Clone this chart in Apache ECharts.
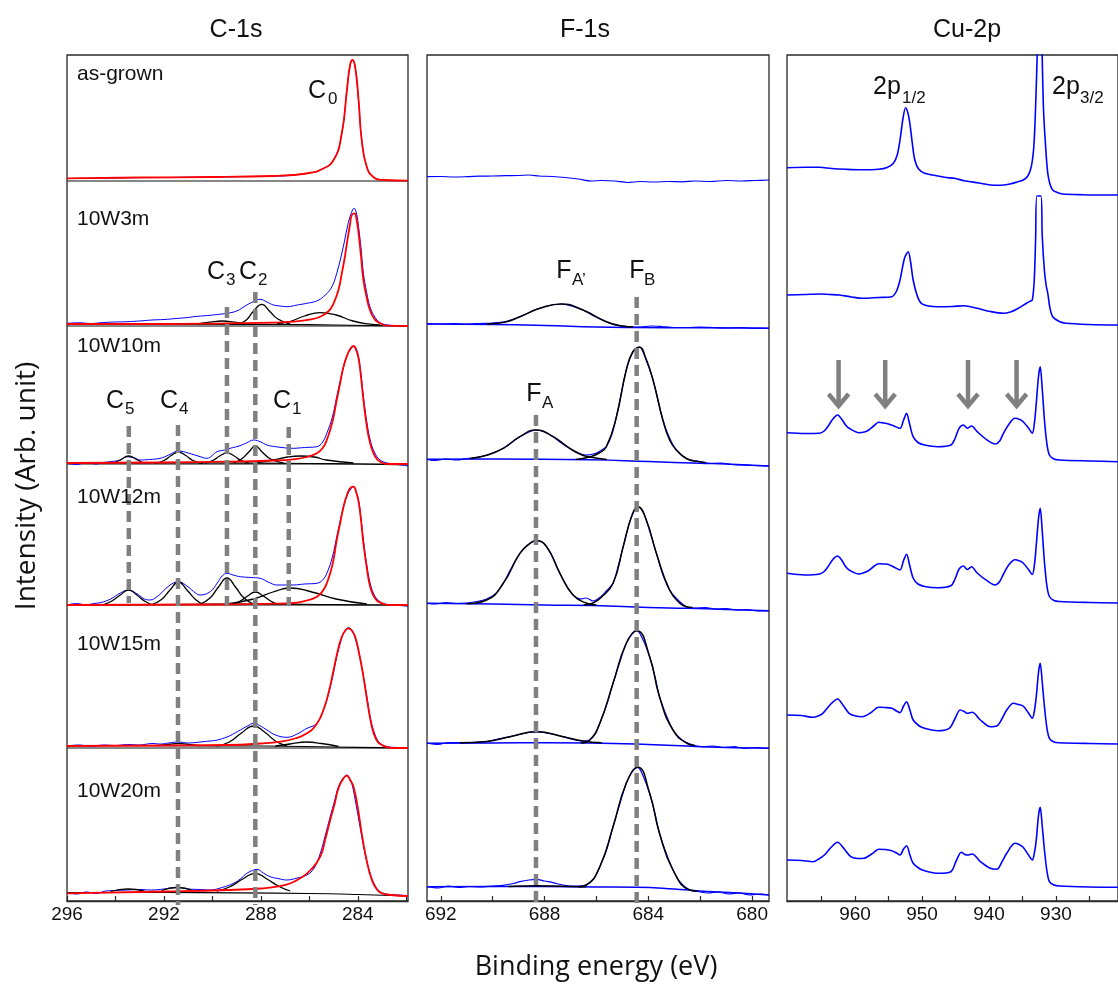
<!DOCTYPE html>
<html><head><meta charset="utf-8">
<script src="https://cdn.jsdelivr.net/npm/echarts@6/dist/echarts.min.js"></script>
<style>html,body{margin:0;padding:0;background:#fff}#c{width:1118px;height:990px}</style>
</head><body><div id="c"></div>
<script>
// ---------------- DATA ----------------
const panelTitles = ['C-1s', 'F-1s', 'Cu-2p'];
const rowNames = ['as-grown', '10W3m', '10W10m', '10W12m', '10W15m', '10W20m'];
// vertical offset of each stacked spectrum (arb. units)
const rowOffsets = [720, 575, 437, 296, 153, 0];

const cLabels = [284, 288, 292, 296];
const cTicks = [282, 284, 286, 288, 290, 292, 294, 296];
const fLabels = [680, 684, 688, 692];
const fTicks = [680, 682, 684, 686, 688, 690, 692];
const cuLabels = [930, 940, 950, 960];
const cuTicks = [925, 930, 935, 940, 945, 950, 955, 960, 965];

// C-1s raw spectra (blue), [binding energy, intensity above row baseline]
const cRaw = [
 [[296,2.5],[295,2.8],[294,3],[293,3.4],[292,3.5],[291,3.8],[290,4],[289,4.3],[288,4.5],[287,5.2],[286.66,6],[286,8],[285.55,11],[285.0,21],[284.66,48],[284.45,91],[284.32,116],[284.22,121],[284.11,114],[283.97,81],[283.84,41],[283.63,14],[283.36,4],[282.95,1],[282.5,0.6],[281.93,0.3]],
 [[296,2.7],[295.5,3.2],[295,2.5],[294.5,3.5],[294,4],[293.53,4.3],[293,5],[292.5,6],[292,6.5],[291.5,7.5],[291,8.5],[290.78,9.3],[290.2,10.5],[289.8,11.5],[289.4,12.7],[289,15],[288.58,21],[288.3,24.5],[288.03,26.7],[287.75,24],[287.48,21],[287.2,20],[286.93,19.3],[286.5,21],[286.1,22.7],[285.7,25],[285.42,29.3],[285.1,38],[284.87,52.7],[284.6,79.3],[284.45,97],[284.32,109.3],[284.15,117.7],[284.05,112],[283.97,99.3],[283.87,78],[283.77,52.7],[283.63,33],[283.5,19.3],[283.3,9],[283.08,3.3],[282.7,0.8],[282.3,0.3],[281.93,0]],
 [[296,0.7],[295.6,-0.5],[295.2,1.5],[294.8,0],[294.5,1.5],[294.21,2.3],[293.8,4],[293.53,7.3],[293.2,6],[292.98,4],[292.6,4.5],[292.15,5.7],[291.8,9],[291.4,13],[291,11],[290.5,7.3],[290.23,5.7],[289.81,12.3],[289.5,14],[289.27,15.7],[288.9,18],[288.6,21],[288.3,24],[288,22],[287.75,19],[287.3,17],[286.66,15.7],[286.2,16.5],[285.69,17.3],[285.45,22],[285.28,30.7],[285.05,47],[284.87,67.3],[284.72,84],[284.59,97.3],[284.45,108],[284.32,114],[284.15,118],[284.06,115],[283.97,107.3],[283.87,90],[283.77,67.3],[283.63,42],[283.49,24],[283.3,11],[283.08,4],[282.8,1],[282.53,0],[282.2,-1],[281.93,-2]],
 [[296,0],[295.6,1.5],[295.2,0],[294.9,1.5],[294.62,2.3],[294.2,6],[293.8,12],[293.46,15],[293.1,11],[292.8,6],[292.57,5],[292.2,10],[291.8,19],[291.4,23.3],[291,18],[290.7,12],[290.5,10],[290.09,13.3],[289.8,22],[289.6,29],[289.4,31.7],[289.15,30],[288.85,28.3],[288.4,27.5],[288.03,26.7],[287.7,23],[287.34,20],[286.66,20],[286.2,21],[285.69,21.7],[285.45,25],[285.28,31.7],[285.05,48],[284.87,68.3],[284.72,85],[284.59,98.3],[284.45,109],[284.32,115],[284.18,118.3],[284.07,113],[283.97,105],[283.87,87],[283.77,65],[283.63,40],[283.49,21.7],[283.3,9],[283.08,3.3],[282.8,0.5],[282.4,0],[281.93,-1]],
 [[296,2],[295.5,3],[295,1.5],[294.5,3],[294,2.5],[293.5,3.5],[293,3],[292.5,4.5],[292.15,4],[291.8,5],[291.4,6],[291,5],[290.78,5.3],[290.3,6.5],[289.9,7.5],[289.68,8.7],[289.3,12],[288.85,18],[288.55,22],[288.3,24.7],[288.05,22.5],[287.75,18],[287.4,13],[286.93,10.7],[286.5,14],[286.1,19.7],[285.85,22],[285.69,24.7],[285.5,33],[285.28,48],[285.05,70],[284.87,91.3],[284.72,105],[284.59,114.7],[284.39,120.3],[284.28,119],[284.18,114.7],[284.0,100],[283.84,81.3],[283.65,55],[283.49,31.3],[283.3,14],[283.08,4.7],[282.7,1],[282.3,0.5],[281.93,0]],
 [[296,8.3],[295.6,7],[295.2,9],[294.8,7.5],[294.4,10],[294,10.5],[293.53,11],[293,11.5],[292.5,11],[292,12],[291.46,13.7],[291,12],[290.5,11.5],[290.09,11],[289.6,13.5],[289.13,17.7],[288.85,22],[288.58,27.7],[288.35,30.5],[288.16,31.7],[287.9,28],[287.62,24.3],[287.3,22.5],[286.93,21],[286.5,23],[286.1,26],[285.8,33],[285.55,47.7],[285.35,65],[285.14,84.3],[284.95,101],[284.8,114.3],[284.6,123],[284.45,126],[284.35,123],[284.25,117.7],[284.1,100],[283.91,74.3],[283.7,47],[283.49,27.7],[283.3,16],[283.08,9.3],[282.7,6.5],[282.3,6],[281.93,5]]
];
// C-1s C0 fitted component (red)
const cFit = [
 [[296,2.7],[293,3.5],[290,4],[287.5,5],[286.66,6],[286,8],[285.55,11],[285.0,21],[284.66,48],[284.45,91],[284.32,116],[284.22,121],[284.11,114],[283.97,81],[283.84,41],[283.63,14],[283.36,4],[282.95,1],[281.93,0.3]],
 [[296,2],[292,2],[289.4,2.7],[287.5,3.3],[286.66,4.3],[286,6.3],[285.55,9.3],[285.2,15],[285.0,22.7],[284.8,36],[284.66,52.7],[284.53,70],[284.43,86],[284.32,102],[284.25,111],[284.14,112.7],[284.05,106],[283.97,92.7],[283.87,70],[283.77,46],[283.63,28],[283.5,16],[283.3,6.5],[283.08,2.7],[282.8,0.3],[281.93,0]],
 [[296,1],[292,1.5],[289.4,2.3],[287.5,3.5],[286.66,4.7],[286.1,7],[285.69,10.7],[285.45,16],[285.28,24],[285.05,42],[284.87,64],[284.72,82],[284.59,97.3],[284.45,108],[284.32,114.7],[284.18,118],[284.07,114],[283.97,105.7],[283.87,87],[283.77,64],[283.63,38],[283.49,20.7],[283.3,8],[283.08,2.3],[282.7,0],[281.93,0]],
 [[296,0],[290,0.5],[287.5,1.3],[286.66,2],[286.1,4.5],[285.69,8.3],[285.45,14],[285.28,21.7],[285.05,40],[284.87,65],[284.72,83],[284.59,98.3],[284.45,110],[284.32,116.7],[284.18,118.3],[284.07,113],[283.97,103.3],[283.87,85],[283.77,61.7],[283.63,37],[283.49,18.3],[283.3,7],[283.08,2.3],[282.6,0],[281.93,0]],
 [[296,2],[292,2.5],[289.4,3],[288,4.5],[287.2,6.3],[286.6,9.5],[286.1,14.7],[285.7,24],[285.42,38],[285.2,56],[285.0,78],[284.83,97],[284.66,111.3],[284.5,118],[284.39,119.7],[284.25,117.5],[284.11,111.3],[283.95,95],[283.77,71.3],[283.6,45],[283.42,21.3],[283.25,9],[283.08,4],[282.6,0],[281.93,0]],
 [[296,7.7],[292,9.5],[289.4,11],[288,12.5],[287.34,14.3],[286.8,17.5],[286.38,22.7],[285.95,31],[285.55,44.3],[285.35,61],[285.14,81],[284.95,98],[284.8,112.7],[284.6,122.5],[284.45,125.3],[284.32,121],[284.18,114.3],[284.0,93],[283.84,67.7],[283.63,40],[283.42,21],[283.2,11],[283.0,7.7],[282.6,6],[281.93,5]]
];
// C-1s other components C1..C5 (black)
const cComps = [
 [],
 [
  [[290.6,2],[290.1,3.8],[289.6,5],[289.1,3.8],[288.6,2]],
  [[288.92,2],[288.6,6],[288.3,15],[287.96,21.7],[287.65,15],[287.3,7],[286.79,2]],
  [[287.34,2],[286.8,4.5],[286.2,10],[285.55,13.3],[284.9,11],[284.2,5],[283.5,1.8],[283.08,1]]
 ],
 [
  [[294.08,1],[293.8,4],[293.46,8],[293.1,4],[292.84,1]],
  [[292.36,0.5],[292.0,3.5],[291.7,8.5],[291.4,12],[291.1,8.5],[290.8,3.5],[290.37,0.5]],
  [[290.3,1],[289.95,4],[289.7,8],[289.4,11],[289.1,8],[288.85,4],[288.5,1]],
  [[289.13,1],[288.8,5],[288.5,12],[288.23,18],[287.95,12],[287.6,5],[287.07,1]],
  [[288.3,1],[287.5,4],[286.9,7],[286.38,8],[285.8,7],[285.3,4],[284.18,1]]
 ],
 [
  [[294.49,0.5],[294.15,4],[293.8,10],[293.46,15],[293.12,10],[292.8,4],[292.5,0.5]],
  [[292.5,0.5],[292.1,5.5],[291.75,15],[291.4,23],[291.05,15],[290.7,5.5],[290.37,0.5]],
  [[290.5,1],[290.1,7],[289.75,18],[289.4,27],[289.05,18],[288.7,7],[288.3,1]],
  [[289.13,1],[288.85,4],[288.55,9],[288.23,13],[287.9,9],[287.6,4],[287.34,1]],
  [[289.4,1],[288.3,6],[287.5,13],[286.79,17],[285.9,13],[284.9,6],[283.63,1]]
 ],
 [
  [[292.3,2.3],[291.8,3.5],[291.4,4.5],[291,3.5],[290.5,2.3]],
  [[289.82,2],[289.3,6],[288.8,15],[288.3,22],[287.85,16],[287.4,7],[286.93,2]],
  [[287.4,2],[286.8,4],[286.1,6],[285.5,4.5],[284.8,1.5]]
 ],
 [
  [[294.2,9.5],[293.5,12],[292.8,9.8]],
  [[292.1,10.5],[291.45,13.5],[290.8,10.5]],
  [[289.82,10],[289.3,14],[288.75,22],[288.23,27.7],[287.75,22],[287.25,14.5],[286.79,10]]
 ]
];
// C-1s background (black)
const cBg = [
 [],
 [[296,2],[292,1.9],[289,1.7],[287,1.5],[285,1],[283.5,0.5],[281.93,0]],
 [[296,1],[290,1],[286,0.5],[284,0],[281.93,-1]],
 [[296,0],[292,0.5],[288,1],[285,0.3],[283,0],[281.93,-1]],
 [[296,2.5],[292,2.3],[288,2],[285,1],[283,0.3],[281.93,0]],
 [[296,8.5],[292,8.5],[289,8.2],[286,7.5],[284,6.5],[281.93,5]]
];
// C-1s dashed guide lines: [energy, top, bottom] (absolute units)
const cGuides = [[293.45,475,298],[291.42,476,-4],[289.4,594,296],[288.23,609,-4],[286.85,474,296]];

// F-1s raw (blue)
const fRaw = [
 [[692.53,4.3],[692,4.5],[691.5,4],[691,4.3],[690.5,4.8],[690,5],[689.5,5.3],[689,5.5],[688.6,6],[688.2,5],[687.7,4.5],[687.2,3.5],[686.7,2],[686.2,0],[685.8,0.5],[685.3,0],[684.8,-1.5],[684.3,-0.5],[683.8,-1],[683.2,-0.5],[682.7,-0.8],[682.2,0],[681.6,-0.5],[681,0.5],[680.4,0],[679.9,0.5],[679.35,1]],
 [[692.53,2.3],[692,2],[691.5,2.5],[691,2],[690.5,2.5],[690,3],[689.5,4.5],[688.95,9.3],[688.5,14.5],[688.18,17.7],[687.8,20.5],[687.35,22],[686.9,19.5],[686.52,16],[686.1,10],[685.62,4.3],[685.2,0.5],[684.8,-0.5],[684.3,-1],[683.9,0],[683.5,-0.5],[683,-1.5],[682.5,-1.5],[682,-1],[681.5,-1.5],[681,-2],[680.5,-1.5],[680,-2],[679.35,-2.3]],
 [[692.53,4.7],[692.2,3.5],[691.8,5],[691.4,4],[691,5.5],[690.87,5.7],[690.5,7],[690.1,10],[689.59,15.7],[689.3,21],[688.95,27.3],[688.6,32],[688.33,34],[688.0,32],[687.67,27.3],[687.35,21],[687.03,15.7],[686.7,11],[686.4,9],[686.2,9.5],[686.0,11],[685.8,14],[685.62,17.3],[685.4,30],[685.23,47.3],[685.05,70],[684.85,94],[684.6,112],[684.34,117],[684.1,105],[683.82,84],[683.63,64],[683.44,44],[683.2,27],[682.92,14],[682.5,5],[682.03,2.3],[681.6,0.5],[681.2,1],[680.8,-0.5],[680.4,-1],[680,-1.5],[679.35,-2]],
 [[692.53,1.7],[692.2,1],[691.8,2.5],[691.4,1.5],[691,2],[690.6,3.5],[690.23,6],[689.9,11],[689.59,21.7],[689.3,36],[688.95,51.7],[688.56,61.7],[688.33,64.3],[688.1,63],[687.92,58.3],[687.67,47],[687.41,31.7],[687.15,19],[686.9,10],[686.6,6],[686.4,7],[686.13,4],[685.8,9],[685.62,14],[685.36,21.7],[685.15,40],[684.97,58.3],[684.8,75],[684.65,88.3],[684.4,98.3],[684.2,93],[684.08,85],[683.9,70],[683.69,51.7],[683.45,31],[683.18,15],[682.9,6],[682.54,-1.7],[682.2,-3],[681.8,-2.5],[681.4,-4],[681,-3.5],[680.6,-5],[680.2,-4.5],[679.8,-6],[679.35,-5.7]],
 [[692.53,5],[692.1,3.5],[691.7,5.5],[691.26,5.3],[690.8,5.5],[690.23,6.3],[689.8,9],[689.33,11.3],[688.8,14.5],[688.31,16.3],[687.8,14.5],[687.28,11.3],[686.9,8.5],[686.52,7],[686.26,8],[686.05,14],[685.87,24.7],[685.6,44],[685.36,64.7],[685.1,86],[684.85,104.7],[684.6,115],[684.44,117.3],[684.2,108],[683.95,91.3],[683.75,72],[683.57,51.3],[683.3,32],[683.05,18],[682.7,8],[682.28,3],[681.9,1.3],[681.5,2],[681.1,0.5],[680.7,1.5],[680.3,-0.5],[679.9,0.5],[679.35,-0.3]],
 [[692.53,14.3],[692.1,13],[691.7,15],[691.3,13.5],[690.9,14.5],[690.5,14],[690,15],[689.59,15.7],[689.2,17.5],[688.95,19.3],[688.6,21],[688.31,21.7],[688,20],[687.67,18.3],[687.3,16],[687.03,15],[686.7,14.8],[686.39,16],[686.1,22],[685.87,34.3],[685.6,52],[685.36,74.3],[685.1,97],[684.85,117.7],[684.6,130],[684.4,133.7],[684.2,125],[683.95,107.7],[683.75,88],[683.57,67.7],[683.3,47],[683.05,31],[682.75,18],[682.41,11],[682.1,9.5],[681.7,8],[681.3,9],[680.9,7],[680.5,8],[680.1,6],[679.7,7],[679.35,6]]
];
// F-1s background (blue)
const fBg = [
 [],
 [[692.53,2],[690,1.5],[688,0.5],[686,-1],[684.5,-1.5],[682,-1.8],[679.35,-2.3]],
 [[692.53,4.7],[690,5],[686.26,4.3],[684,2.5],[682,0.7],[681,0],[679.35,-2]],
 [[692.53,1.7],[690,1],[688,0],[686.13,-0.5],[684,-2.5],[682.5,-3.3],[681,-4.5],[679.35,-5.7]],
 [[692.53,4.7],[690,5],[688,5.3],[686.26,5],[684,3.5],[682,1.3],[679.35,-0.3]],
 [[692.53,14.3],[690,14.6],[688,14.5],[686,14],[684.46,13.7],[683,12],[682.15,10.3],[680.5,8],[679.35,6]]
];
// F-1s fitted components (black)
const fComps = [
 [],
 [[[690.23,2],[689.5,4],[688.95,9.3],[688.18,17.7],[687.35,22],[686.52,16],[685.62,4.3],[685,0],[684.59,-1]]],
 [
  [[690.87,5.5],[690.2,9],[689.59,15.7],[688.95,27.3],[688.33,34],[687.67,27.3],[687.03,15.7],[686.6,9.5],[686.26,7],[685.9,5.5],[685.6,4.5]],
  [[686.8,4.5],[686.26,7],[685.9,11],[685.62,17.3],[685.23,47.3],[684.85,94],[684.6,112],[684.34,116.7],[684.1,106],[683.82,84],[683.44,44],[683.18,24],[682.92,14],[682.5,5],[682.03,2.3],[681.8,1.5]]
 ],
 [
  [[691,1.3],[690.23,5],[689.59,21.7],[688.95,51.7],[688.56,61.7],[688.33,64.3],[687.92,58.3],[687.41,31.7],[686.9,10],[686.4,2],[686.0,0]],
  [[686.5,0],[686.13,2],[685.8,8],[685.36,21.7],[684.97,58.3],[684.65,88.3],[684.4,98.3],[684.08,85],[683.69,51.7],[683.18,15],[682.8,2],[682.54,-1.7],[682.3,-2.5]]
 ],
 [
  [[691.26,5.3],[690.23,6.5],[689.33,11.3],[688.31,16.3],[687.28,11.3],[686.52,7],[685.8,5.2]],
  [[686.6,5],[686.26,8],[685.87,24.7],[685.36,64.7],[684.85,104.7],[684.44,117.3],[683.95,91.3],[683.57,51.3],[683.05,18],[682.5,4.5],[682.2,2.5]]
 ],
 [
  [[689.4,14.6],[688.8,15],[688.3,15.2],[687.7,15],[687,14.6],[686.4,14.2]],
  [[686.7,14.2],[686.39,16],[685.87,34.3],[685.36,74.3],[684.85,117.7],[684.4,133.7],[683.95,107.7],[683.57,67.7],[683.05,31],[682.41,11],[682.1,10]]
 ]
];
const fGuides = [[688.33,486,-4],[684.45,604,-4]];

// Cu-2p raw (blue)
const cuRaw = [
 [[970.15,13.3],[967.5,13.8],[965.29,13.7],[963.5,12.5],[961.37,11.7],[959,11.2],[956.47,11.7],[955.2,13.5],[954.26,17.7],[953.7,26],[953.28,41],[952.85,62],[952.45,73.3],[952.1,68],[951.81,57.7],[951.45,38],[951.07,21],[950.5,12],[949.6,7.7],[948,5.5],[946.66,3.7],[945,2.5],[943.72,0.3],[941.5,-2],[939.8,-4],[938.3,-4.2],[936.87,-3],[935.8,-1],[934.9,1],[934.2,5],[933.68,14.3],[933.3,35],[933.04,74.3],[932.75,140],[932.42,250],[932.1,140],[931.85,70],[931.45,25],[931.22,7.7],[930.9,-3],[930.49,-9],[929.8,-11.5],[929.02,-13],[926,-13.7],[923,-14],[920.74,-14]],
 [[970.15,31],[967.5,31.5],[965.29,32],[963.8,31.5],[962.35,31],[960.5,29],[958.92,27.7],[956.5,28.5],[954.51,29.3],[953.8,35],[953.28,46],[952.6,68],[952.06,74.3],[951.7,64],[951.32,46],[950.7,30],[950.1,22.7],[949,20],[947.65,19.3],[945.5,19.5],[943.72,20.3],[941.76,17.7],[939.8,14.5],[937.84,12.7],[936.8,14],[935.88,16.7],[934.41,22.7],[933.8,25],[933.53,26],[933.25,45],[933.04,86],[932.85,130],[932.25,130],[932.05,90],[931.72,55],[931.45,40],[931.22,32.7],[930.9,18],[930.49,9.3],[929.5,4.5],[928.53,2.7],[925,1.5],[920.74,1]],
 [[970.15,31.3],[967.5,30.5],[965.29,30.7],[964.6,33],[964.07,37.3],[963.3,45],[962.6,49],[962,45],[961.4,39],[960.88,35.7],[959.41,31.3],[958.6,32],[957.94,34],[957.2,38],[956.47,41.7],[955.7,41],[955,40],[954.2,38],[953.28,35.7],[952.75,44],[952.3,50.7],[951.85,40],[951.32,27.3],[950.6,21.5],[949.6,19],[947.65,17.3],[945.69,19],[945.1,25],[944.46,35.7],[943.82,39],[943.24,35.7],[942.6,38],[941.76,32.3],[940.29,24],[939.07,20],[938.4,23],[937.84,30.7],[937,40],[936.13,45.7],[935.4,44.5],[934.9,42.3],[934.1,36],[933.53,30.7],[933.2,42],[932.94,60.7],[932.6,88],[932.35,97.3],[932.05,75],[931.72,44],[931.35,20],[930.98,9],[930.3,5],[929.51,4],[925,3],[920.74,2.3]],
 [[970.15,31.7],[967.5,30],[965.29,31],[964.6,33.5],[964.07,38],[963.3,45.5],[962.6,49],[962,45],[961.4,38.5],[960.88,35],[959.41,31],[958.6,32.5],[957.94,34.5],[957.2,38.5],[956.47,41.3],[955.7,41],[955,40.5],[954.2,38],[953.28,35],[952.75,44.5],[952.3,50.7],[951.85,40],[951.32,27],[950.6,21],[949.6,18.5],[947.65,17.3],[945.69,19.3],[945.1,25.5],[944.46,36],[943.82,39],[943.24,35.5],[942.6,38.3],[941.76,32],[940.29,24.3],[939.07,20],[938.4,23.5],[937.84,31],[937,40.5],[936.13,45.3],[935.4,44],[934.9,42],[934.1,35.5],[933.53,30.5],[933.2,41],[932.94,60],[932.6,87],[932.35,96.7],[932.05,74],[931.72,43],[931.35,19],[930.98,8.5],[930.3,4.5],[929.51,3.5],[925,2.5],[920.74,2]],
 [[970.15,33],[968,32.5],[966.27,30.7],[965.5,32],[964.8,34.7],[963.6,44],[962.6,49],[961.7,42],[960.88,34.7],[959.9,32],[958.92,31.3],[957.7,35],[956.47,40.7],[955.5,40.5],[954.51,39.7],[953.8,37],[953.28,35.3],[952.75,42],[952.3,46.3],[951.8,38],[951.32,28],[950.4,22],[949.6,19.7],[947.65,17.3],[945.93,19.7],[945.1,29],[944.31,38],[943.7,36.5],[943.24,34.7],[942.5,35.7],[941.28,28],[939.81,21.3],[938.82,22],[938,30],[937.35,38],[936.37,44.7],[935.6,43.5],[934.9,42],[934.1,35],[933.53,29.7],[933.2,38],[932.94,51.3],[932.6,76],[932.35,84.7],[932.05,66],[931.72,41.3],[931.35,20],[930.98,9.7],[930.3,6],[929.51,5.3],[925,4.5],[920.74,4]],
 [[970.15,41],[968,40.5],[966.27,39.3],[965.4,42],[964.56,46],[963.6,53.5],[962.6,58.7],[961.6,52],[960.63,44.3],[959.6,42.5],[958.68,42.7],[957.5,47],[956.47,51.7],[955.5,51.5],[954.51,50.3],[953.8,48],[953.28,46],[952.75,52],[952.3,55.3],[951.8,46],[951.32,37.7],[950.4,32.5],[949.6,30.3],[947.65,27.7],[945.69,29.3],[944.9,40],[944.12,48.7],[943.6,46.5],[943.24,46],[942.5,47],[941.28,39.3],[939.81,32.7],[938.82,31.7],[938,40],[937.35,47.7],[936.13,57.7],[935.5,56.5],[934.9,53.7],[934.1,46],[933.53,41],[933.2,49],[932.94,61],[932.6,86],[932.35,93.7],[932.05,75],[931.72,51],[931.35,30],[930.98,19.3],[930.3,16],[929.51,15],[925,14],[920.74,13.7]]
];
// satellite arrows over 10W10m Cu-2p: energies, top & tip (absolute units)
const cuArrowE = [962.45, 955.49, 943.13, 935.88];
const cuArrowTop = 541, cuArrowTip = 494;

// ---------------- CHART ----------------
const AX = '#2a2a2a';
const SANS = '"Liberation Sans", Arial, sans-serif';
const grids = [
  {left: 67, top: 55, width: 341, height: 846},
  {left: 427, top: 55, width: 342, height: 846},
  {left: 787, top: 55, width: 336, height: 846}
].map(g => Object.assign(g, {show: true, borderColor: AX, borderWidth: 1.3, containLabel: false}));

function xAx(i, min, max, labels, ticks) {
  return {
    gridIndex: i, type: 'value', inverse: true, min: min, max: max,
    axisLine: {show: true, onZero: false, lineStyle: {color: AX, width: 1.3}},
    axisTick: {show: true, inside: true, length: 5, customValues: ticks, lineStyle: {color: AX, width: 1.2}},
    axisLabel: {show: true, customValues: labels, fontSize: 19, color: '#111', margin: 4, fontFamily: SANS},
    splitLine: {show: false}
  };
}
const xAxes = [
  xAx(0, 281.93, 296, cLabels, cTicks),
  xAx(1, 679.35, 692.53, fLabels, fTicks),
  xAx(2, 920.74, 970.15, cuLabels, cuTicks)
];
const yAxes = [0, 1, 2].map(i => ({gridIndex: i, type: 'value', min: 0, max: 846, show: false}));

const series = [];
function addLine(gi, data, off, color, width, z, smooth) {
  series.push({
    type: 'line', xAxisIndex: gi, yAxisIndex: gi, z: z,
    data: data.map(p => [p[0], p[1] + off]),
    symbol: 'none', showSymbol: false, smooth: smooth === undefined ? 0.5 : smooth,
    lineStyle: {color: color, width: width, join: 'round'}, silent: true, animation: false
  });
}
const BLUE = '#0000ff', RED = '#ff0000', BLACK = '#000000', GRAY = '#808080';

// C-1s separators between stacked frames
rowOffsets.slice(0, 5).forEach(o => addLine(0, [[296, 0], [281.93, 0]], o, '#111', 1.2, 1, false));

for (let r = 0; r < 6; r++) {
  const off = rowOffsets[r];
  // C-1s
  if (cBg[r].length) addLine(0, cBg[r], off, BLACK, 1.2, 2);
  addLine(0, cRaw[r], off, BLUE, 1, 3, 0.4);
  cComps[r].forEach(c => addLine(0, c, off, BLACK, 1.3, 4));
  addLine(0, cFit[r], off, RED, 1.8, 5);
  // F-1s
  if (fBg[r].length) addLine(1, fBg[r], off, BLUE, 1.5, 2);
  addLine(1, fRaw[r], off, BLUE, 1.2, 3, 0.3);
  fComps[r].forEach(c => addLine(1, c, off, BLACK, 1.5, 4));
  // Cu-2p
  addLine(2, cuRaw[r], off, BLUE, 1.6, 3, 0.3);
}

function addGuides(gi, guides) {
  guides.forEach(g => series.push({
    type: 'line', xAxisIndex: gi, yAxisIndex: gi, z: 10, clip: false,
    data: [[g[0], g[1]], [g[0], g[2]]], symbol: 'none', showSymbol: false,
    lineStyle: {color: GRAY, width: 4.5, type: [11, 6], cap: 'butt'}, silent: true, animation: false
  }));
}
addGuides(0, cGuides);
addGuides(1, fGuides);

series.push({
  type: 'custom', xAxisIndex: 2, yAxisIndex: 2, z: 10, silent: true, animation: false,
  data: cuArrowE.map(e => [e, cuArrowTop]),
  renderItem: function (params, api) {
    const e = api.value(0);
    const p1 = api.coord([e, cuArrowTop]);
    const p2 = api.coord([e, cuArrowTip]);
    const st = {stroke: GRAY, lineWidth: 4.5, fill: null, lineJoin: 'miter'};
    return {type: 'group', children: [
      {type: 'line', shape: {x1: p1[0], y1: p1[1], x2: p2[0], y2: p2[1] - 2}, style: st},
      {type: 'polyline', shape: {points: [[p2[0] - 10, p2[1] - 13], [p2[0], p2[1] - 1], [p2[0] + 10, p2[1] - 13]]}, style: st}
    ]};
  }
});

// ---------------- TEXT ----------------
const graphic = [];
function txt(x, y, s, size, align, family, rot) {
  const g = {type: 'text', x: x, y: y, silent: true, z: 100,
    style: {text: s, font: size + 'px ' + (family || SANS), fill: '#111', textAlign: align || 'center', textVerticalAlign: 'middle'}};
  if (rot) g.rotation = rot;
  graphic.push(g);
}
txt(236, 30, panelTitles[0], 25);
txt(585, 30, panelTitles[1], 25);
txt(967, 30, panelTitles[2], 25);
const rowLabelY = [74, 219, 346, 497, 644, 791];
rowNames.forEach((n, i) => txt(77, rowLabelY[i], n, 21, 'left'));
// peak labels (main letter + subscript)
function peak(x, y, main, sub, sx, sy) {
  txt(x, y, main, 25, 'center');
  txt(sx, sy, sub, 17, 'left');
}
peak(317, 91, 'C', '0', 328, 99);
peak(216, 272, 'C', '3', 226, 280);
peak(248, 272, 'C', '2', 258, 280);
peak(115, 401, 'C', '5', 125, 409);
peak(169, 401, 'C', '4', 179, 409);
peak(282, 401, 'C', '1', 292, 409);
peak(564, 271, 'F', 'A\u2019', 572, 280);
peak(637, 271, 'F', 'B', 644, 280);
peak(534, 394, 'F', 'A', 542, 403);
txt(887, 87, '2p', 25, 'center');
txt(902, 98, '1/2', 17, 'left');
txt(1066, 87, '2p', 25, 'center');
txt(1080, 98, '3/2', 17, 'left');
txt(596, 967, 'Binding energy (eV)', 27, 'center', '"Open Sans", sans-serif');
txt(27, 486, 'Intensity (Arb. unit)', 28, 'center', '"Open Sans", sans-serif', Math.PI / 2);

const chart = echarts.init(document.getElementById('c'), null, {renderer: 'canvas'});
chart.setOption({
  animation: false, backgroundColor: '#fff',
  grid: grids, xAxis: xAxes, yAxis: yAxes, series: series, graphic: graphic
});
</script></body></html>
